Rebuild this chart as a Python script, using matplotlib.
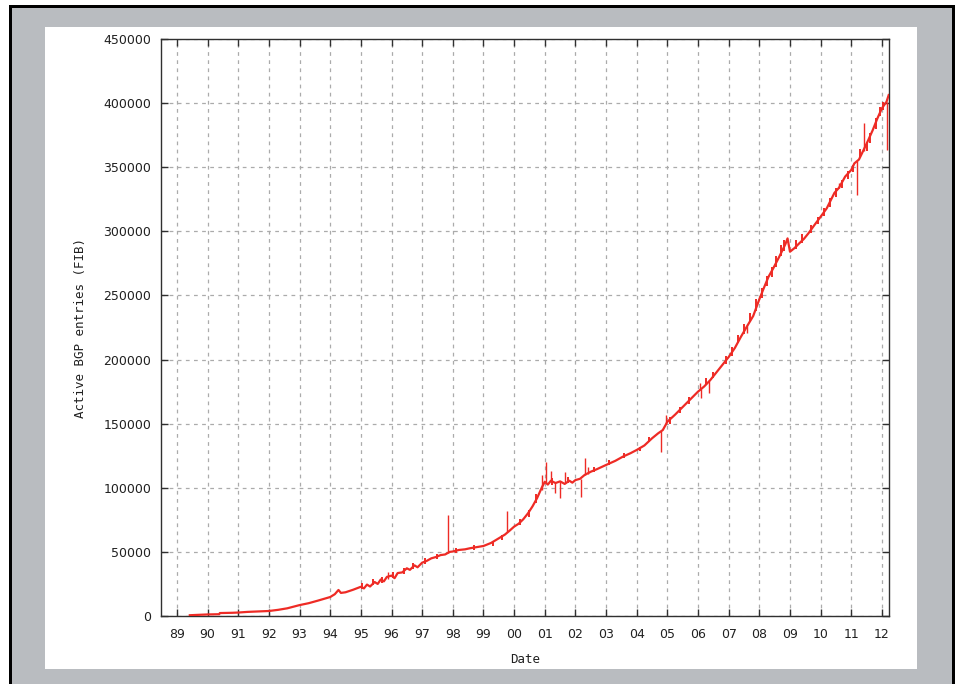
import numpy as np
import matplotlib
matplotlib.use('Agg')
import matplotlib.pyplot as plt
from matplotlib.patches import Rectangle

# BGP table size (FIB entries)
years = [1989.42, 1989.7, 1990.0, 1990.38, 1990.40, 1990.8, 1991.0, 1991.3, 1991.6, 1992.0,
         1992.3, 1992.6, 1993.0, 1993.3, 1993.6, 1994.0, 1994.15, 1994.27, 1994.35, 1994.5,
         1994.75, 1995.0, 1995.1, 1995.2, 1995.3, 1995.45, 1995.55, 1995.65, 1995.75, 1995.85,
         1996.0, 1996.1, 1996.2, 1996.35, 1996.5, 1996.6, 1996.75, 1996.85, 1997.0, 1997.15,
         1997.3, 1997.45, 1997.6, 1997.75, 1997.9, 1998.0, 1998.2, 1998.4, 1998.55, 1998.8,
         1999.0, 1999.25, 1999.5, 1999.7, 1999.85, 2000.0, 2000.15, 2000.3, 2000.45, 2000.6,
         2000.75, 2000.9, 2001.0, 2001.1, 2001.2, 2001.35, 2001.5, 2001.65, 2001.8, 2001.9,
         2002.0, 2002.15, 2002.3, 2002.5, 2002.7, 2003.0, 2003.3, 2003.55, 2003.8, 2004.0,
         2004.25, 2004.5, 2004.7, 2004.85, 2005.0, 2005.25, 2005.5, 2005.75, 2006.0, 2006.2,
         2006.4, 2006.6, 2006.8, 2007.0, 2007.2, 2007.4, 2007.6, 2007.8, 2008.0, 2008.15,
         2008.3, 2008.45, 2008.65, 2008.85, 2008.92, 2009.0, 2009.15, 2009.3, 2009.45, 2009.6,
         2009.8, 2010.0, 2010.2, 2010.45, 2010.6, 2010.8, 2011.0, 2011.1, 2011.25, 2011.4,
         2011.55, 2011.7, 2011.85, 2012.0, 2012.15, 2012.22]
entries = [600, 900, 1200, 1400, 2300, 2500, 2700, 3200, 3500, 3900,
           4800, 6000, 8500, 10000, 12000, 14800, 17000, 20300, 18000, 18500,
           20500, 22800, 21500, 24500, 23000, 26500, 25000, 28500, 27000, 30500,
           31500, 29500, 33500, 34000, 37200, 36000, 39500, 38000, 41600, 43000,
           45000, 46000, 47500, 48000, 50000, 50300, 51500, 52000, 52800, 53800,
           54600, 57000, 60600, 63500, 66500, 69700, 72000, 75500, 80000, 85500,
           92000, 100000, 104700, 102500, 105500, 103700, 105000, 103000, 105500, 104000,
           106000, 107000, 110000, 112500, 114500, 117800, 121000, 124300, 127000, 129500,
           133000, 138600, 142500, 145000, 151500, 157000, 163000, 169000, 175000, 179000,
           184000, 190000, 196000, 202000, 209000, 217800, 226000, 234000, 247000, 256000,
           264600, 271000, 280200, 290000, 294500, 284100, 287000, 290600, 294000, 298400,
           305000, 311400, 318000, 330000, 334000, 342700, 347900, 353000, 356000, 363400,
           371000, 379000, 388000, 396000, 401100, 406300]

# short excursions (spikes) in the data
spike_year = [1995.9, 1997.85, 1999.78, 2000.9, 2001.05, 2001.2, 2001.35, 2001.5, 2001.65,
              2002.17, 2002.3, 2002.4, 2004.8, 2004.95, 2006.05, 2006.1, 2006.35, 2007.6,
              2010.6, 2011.2, 2011.4, 2012.15]
spike_from = [29000, 49500, 65500, 98000, 104000, 104500, 104000, 105000, 104000,
              106500, 110000, 111000, 144000, 150000, 176000, 177000, 183000, 226000,
              334000, 355000, 363000, 401000]
spike_to = [34000, 79000, 81500, 110000, 120300, 113000, 96000, 92000, 112000,
            93000, 123000, 116000, 128000, 157000, 182000, 170000, 173700, 221000,
            338000, 328400, 384300, 363400]

# small day-to-day scatter that makes the trace look thick
jitter_year = [1995.05, 1995.4, 1995.7, 1996.05, 1996.4, 1996.7, 1997.1, 1997.5, 1998.1,
               1998.7, 1999.3, 1999.6, 2000.2, 2000.5, 2000.7, 2001.25, 2001.75, 2002.6,
               2003.1, 2003.6, 2004.1, 2004.4, 2005.1, 2005.4, 2005.7, 2006.25, 2006.5,
               2006.9, 2007.1, 2007.3, 2007.5, 2007.7, 2007.9, 2008.1, 2008.25, 2008.4,
               2008.55, 2008.7, 2008.8, 2009.2, 2009.4, 2009.7, 2009.9, 2010.1, 2010.3,
               2010.5, 2010.7, 2010.9, 2011.05, 2011.3, 2011.5, 2011.6, 2011.8, 2011.95,
               2012.05]
jitter_from = [21000, 24000, 26000, 30000, 33000, 36500, 40500, 44500, 49500,
               51500, 54500, 59000, 71000, 77500, 88000, 102500, 103500, 112000,
               117500, 123500, 128500, 135500, 150000, 158000, 165000, 180000, 185500,
               196500, 203000, 213000, 220000, 229000, 238000, 248000, 257000, 264000,
               272000, 281000, 285000, 286000, 291000, 299000, 306000, 312000, 319000,
               327000, 334000, 341000, 346000, 357000, 363000, 369000, 380000, 390000,
               395000]
jitter_to = [25500, 28500, 30500, 34500, 37500, 41000, 45000, 48000, 53000,
             55000, 58500, 63000, 76000, 83000, 95000, 108000, 108500, 116000,
             121500, 127500, 132000, 139500, 155500, 163000, 171000, 185500, 190500,
             202500, 210000, 219500, 228000, 236000, 247000, 256000, 265000, 272000,
             281000, 289000, 293000, 293000, 298000, 305000, 311500, 318500, 326000,
             334000, 340000, 347000, 352000, 364000, 370000, 377000, 388000, 397000,
             401000]

tick_years = list(range(1989, 2013))
tick_labels = ['%02d' % (y % 100) for y in tick_years]

W, H = 960, 684
fig = plt.figure(figsize=(9.6, 6.84), dpi=100, facecolor='white')

def px_rect(x0, y0, x1, y1, color):
    fig.patches.append(Rectangle((x0 / W, 1 - y1 / H), (x1 - x0) / W, (y1 - y0) / H,
                                 transform=fig.transFigure, facecolor=color,
                                 edgecolor='none', zorder=-10))

px_rect(9, 5, 955, 684, '#000000')
px_rect(12, 7.5, 952, 684, '#b9bcc0')
px_rect(45, 27, 917, 669, '#ffffff')

ax = fig.add_axes([161 / W, 1 - 616 / H, (889 - 161) / W, (616 - 39) / H])
ax.set_facecolor('white')

red = '#ee2b25'
ax.plot(years, entries, color=red, linewidth=1.6, zorder=3)
ax.vlines(jitter_year, jitter_from, jitter_to, color=red, linewidth=1.4, zorder=3)
ax.vlines(spike_year, spike_from, spike_to, color=red, linewidth=1.0, zorder=3)

ax.set_xlim(1988.48, 2012.23)
ax.set_ylim(0, 450000)
ax.set_xticks(tick_years)
ax.set_xticklabels(tick_labels)
ax.set_yticks(np.arange(0, 450001, 50000))
ax.set_yticklabels([str(v) for v in range(0, 450001, 50000)])

ax.grid(True, color='#ababab', linestyle=(0, (3, 3.5)), linewidth=0.9)
ax.set_axisbelow(True)

for s in ax.spines.values():
    s.set_color('#303030')
    s.set_linewidth(1.0)

ax.tick_params(direction='in', length=5, width=1, color='#303030', top=True, right=True,
               labelsize=9, labelcolor='#202020')
ax.tick_params(axis='x', pad=9)
ax.tick_params(axis='y', pad=7)

ax.set_xlabel('Date', fontsize=9, family='DejaVu Sans Mono', color='#202020')
ax.set_ylabel('Active BGP entries (FIB)', fontsize=9, family='DejaVu Sans Mono', color='#202020')
ax.xaxis.set_label_coords(0.5, (616 - 653) / 577)
ax.yaxis.set_label_coords((87 - 161) / 728, 0.5)

fig.savefig('out.png', dpi=100, facecolor='white')
